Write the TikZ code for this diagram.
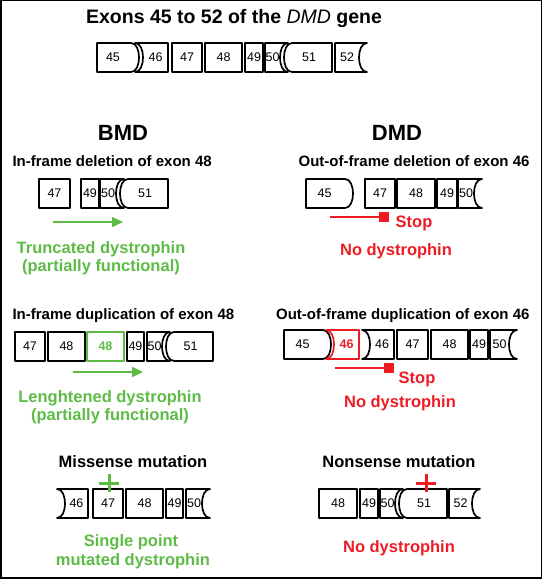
\documentclass[tikz,border=0pt]{standalone}
\usepackage{fontspec}
\setmainfont{Liberation Sans}
\usepackage{tikz}
\usetikzlibrary{arrows.meta}
\definecolor{okgreen}{HTML}{5DBB46}
\definecolor{stopred}{HTML}{ED1C24}

% exon box: [style]{name}{left x}{right x}{top y}{left side}{right side}{number}
% sides: f = flat, c = concave, v = convex
\newcommand{\exon}[8][]{%
  \if c#6%
    \def\exlt{(#3,#5)}\def\exlb{(#3,#5+29)}%
    \def\exlside{.. controls (#3+10.7,#5+29) and (#3+10.7,#5) .. (#3,#5)}\def\exls{4}%
  \else\if v#6%
    \def\exlt{(#3+8,#5)}\def\exlb{(#3+8,#5+29)}%
    \def\exlside{.. controls (#3-2.7,#5+29) and (#3-2.7,#5) .. (#3+8,#5)}\def\exls{1}%
  \else
    \def\exlt{(#3,#5)}\def\exlb{(#3,#5+29)}\def\exlside{}\def\exls{0}%
  \fi\fi
  \if c#7%
    \def\exrt{(#4,#5)}%
    \def\exrside{.. controls (#4-10.7,#5) and (#4-10.7,#5+29) .. (#4,#5+29)}\def\exrs{-4}%
  \else\if v#7%
    \def\exrt{(#4-8,#5)}%
    \def\exrside{.. controls (#4+2.7,#5) and (#4+2.7,#5+29) .. (#4-8,#5+29)}\def\exrs{-5}%
  \else
    \def\exrt{(#4,#5)}\def\exrside{-- (#4,#5+29)}\def\exrs{0}%
  \fi\fi
  \draw[exline,#1] \exlt -- \exrt \exrside -- \exlb \exlside -- cycle;
  \node[exlabel,#1,draw=none] (#2) at ({(#3+#4)/2+\exls+\exrs},#5+14.5) {#8};
}

\begin{document}
\begin{tikzpicture}[
  x=1pt,y=-1pt,
  exline/.style={line width=1.7pt,line join=round},
  exlabel/.style={inner sep=0pt,font=\fontsize{12.5}{14}\selectfont},
  hl/.style={draw=#1,text=#1,font=\fontsize{12.5}{14}\selectfont\bfseries},
  hd/.style={font=\fontsize{15}{17}\selectfont\bfseries},
  bighd/.style={font=\fontsize{16.5}{19}\selectfont\bfseries},
  note/.style={anchor=base,font=\fontsize{16.5}{19}\selectfont\bfseries},
  readthrough/.style={-{Triangle[length=11pt,width=10pt]},line width=1.6pt,okgreen},
  stopline/.style={-{Square[length=10pt,width=10pt]},line width=1.6pt,stopred},
  plusmark/.style={line width=3pt}
]
  \useasboundingbox (0,0) rectangle (543,580);
  \draw[line width=1.5pt] (0.75,0.75) rectangle (541.3,577.8);

  \node[anchor=base,font=\fontsize{19.5}{22}\selectfont\bfseries] (title) at (234,24)
    {Exons 45 to 52 of the \textit{\mdseries DMD} gene};

  % gene
  \exon{g45}{97}{139}{43}{f}{v}{45}
  \exon{g46}{135}{168}{43}{c}{f}{46}
  \exon{g47}{172}{202}{43}{f}{f}{47}
  \exon{g48}{205}{242}{43}{f}{f}{48}
  \exon{g49}{245}{263}{43}{f}{f}{49}
  \exon{g50}{265}{288}{43}{f}{c}{50}
  \exon{g51}{284}{332}{43}{v}{f}{51}
  \exon{g52}{335}{367}{43}{f}{c}{52}

  \node[anchor=base,font=\fontsize{22}{24}\selectfont\bfseries] (bmd) at (123,141) {BMD};
  \node[anchor=base,font=\fontsize{22}{24}\selectfont\bfseries] (dmd) at (397,141) {DMD};

  % in-frame deletion
  \node[hd,anchor=base west] (ifdel) at (9,166) {In-frame deletion of exon 48};
  \exon{a47}{39}{70}{179}{f}{f}{47}
  \exon{a49}{81}{99}{179}{f}{f}{49}
  \exon{a50}{100}{124}{179}{f}{c}{50}
  \exon{a51}{120}{168}{179}{v}{f}{51}
  \coordinate (as) at (53,222);
  \coordinate (ae) at (123,222);
  \draw[readthrough] (as) -- (ae);
  \node[note,okgreen] (atr) at (101,253) {Truncated dystrophin};
  \node[note,okgreen] (apf) at (101,271) {(partially functional)};

  % out-of-frame deletion
  \node[hd,anchor=base east] (ofdel) at (533,166) {Out-of-frame deletion of exon 46};
  \exon{b45}{306}{353}{179}{f}{v}{45}
  \exon{b47}{365}{395}{179}{f}{f}{47}
  \exon{b48}{397}{435}{179}{f}{f}{48}
  \exon{b49}{437}{457}{179}{f}{f}{49}
  \exon{b50}{458}{482}{179}{f}{c}{50}
  \coordinate (bs) at (330,217);
  \coordinate (be) at (389,217);
  \draw[stopline] (bs) -- (be);
  \node[note,stopred] (bstop) at (414,227) {Stop};
  \node[note,stopred] (bno) at (396,255) {No dystrophin};

  % in-frame duplication
  \node[hd,anchor=base west] (ifdup) at (9,319) {In-frame duplication of exon 48};
  \exon{c47}{15}{45}{332}{f}{f}{47}
  \exon{c48}{48}{85}{332}{f}{f}{48}
  \exon[hl=okgreen]{c48d}{87}{124}{332}{f}{f}{48}
  \exon{c49}{127}{144}{332}{f}{f}{49}
  \exon{c50}{147}{170}{332}{f}{c}{50}
  \exon{c51}{166}{213}{332}{v}{f}{51}
  \coordinate (cs) at (73,372);
  \coordinate (ce) at (143,372);
  \draw[readthrough] (cs) -- (ce);
  \node[note,okgreen] (cle) at (110,402) {Lenghtened dystrophin};
  \node[note,okgreen] (cpf) at (110,420) {(partially functional)};

  % out-of-frame duplication
  \node[hd,anchor=base east] (ofdup) at (533,319) {Out-of-frame duplication of exon 46};
  \exon{d45}{284}{331}{330}{f}{v}{45}
  \exon[hl=stopred]{d46d}{326}{359}{330}{c}{f}{46}
  \exon{d46}{362}{394}{330}{c}{f}{46}
  \exon{d47}{397}{428}{330}{f}{f}{47}
  \exon{d48}{431}{468}{330}{f}{f}{48}
  \exon{d49}{470}{488}{330}{f}{f}{49}
  \exon{d50}{490}{517}{330}{f}{c}{50}
  \coordinate (ds) at (335,368);
  \coordinate (de) at (394,368);
  \draw[stopline] (ds) -- (de);
  \node[note,stopred] (dstop) at (417,383) {Stop};
  \node[note,stopred] (dno) at (400,407) {No dystrophin};

  % missense
  \node[bighd,anchor=base] (mis) at (133,467) {Missense mutation};
  \exon{e46}{57}{88}{489}{c}{f}{46}
  \exon{e47}{93}{123}{489}{f}{f}{47}
  \exon{e48}{126}{163}{489}{f}{f}{48}
  \exon{e49}{166}{183}{489}{f}{f}{49}
  \exon{e50}{186}{210}{489}{f}{c}{50}
  \coordinate (ep) at (109,483);
  \draw[plusmark,okgreen] ([xshift=-10pt]ep) -- ([xshift=10pt]ep)
    ([yshift=-9pt]ep) -- ([yshift=9pt]ep);
  \node[note,okgreen] (esp) at (131,546) {Single point};
  \node[note,okgreen] (emd) at (133,565) {mutated dystrophin};

  % nonsense
  \node[bighd,anchor=base] (non) at (399,467) {Nonsense mutation};
  \exon{f48}{319}{357}{489}{f}{f}{48}
  \exon{f49}{360}{378}{489}{f}{f}{49}
  \exon{f50}{380}{403}{489}{f}{c}{50}
  \exon{f51}{399}{447}{489}{v}{f}{51}
  \exon{f52}{449}{480}{489}{f}{c}{52}
  \coordinate (fp) at (426,483);
  \draw[plusmark,stopred] ([xshift=-10pt]fp) -- ([xshift=10pt]fp)
    ([yshift=-9pt]fp) -- ([yshift=9pt]fp);
  \node[note,stopred] (fno) at (399,552) {No dystrophin};
\end{tikzpicture}
\end{document}
